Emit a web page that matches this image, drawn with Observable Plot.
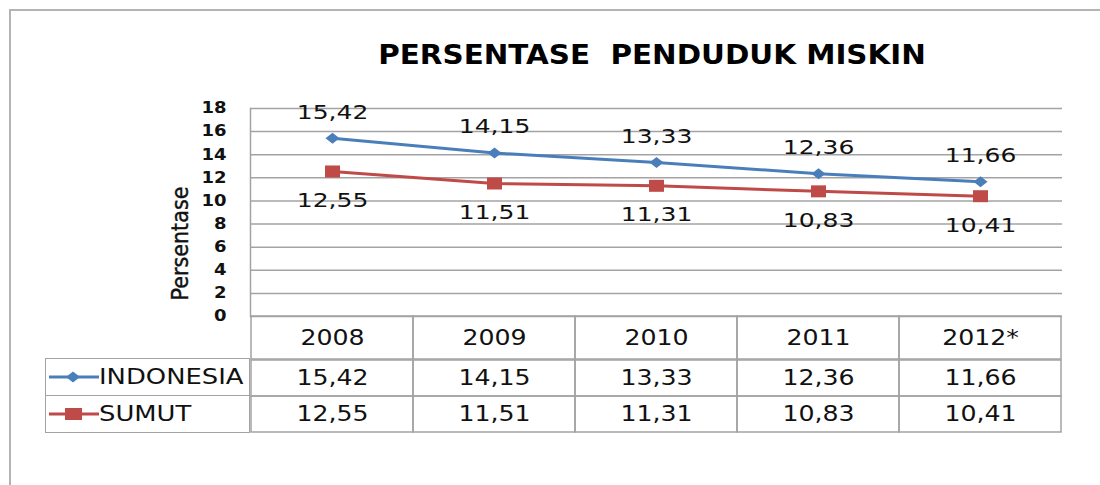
<!DOCTYPE html>
<html>
<head>
<meta charset="utf-8">
<script src="https://cdn.jsdelivr.net/npm/d3@7"></script>
<script src="https://cdn.jsdelivr.net/npm/@observablehq/plot@0.6"></script>
<style>
  html, body { margin: 0; padding: 0; background: #fff; }
  #wrap { position: relative; width: 1100px; height: 485px; overflow: hidden; background: #fff; font-family: "DejaVu Sans", sans-serif; color: #111; }
  #frame { position: absolute; left: 9px; top: 9px; width: 1200px; height: 600px; border-left: 2px solid #b4b4b4; border-top: 2px solid #b4b4b4; }
  #title { position: absolute; left: 246px; width: 812px; top: 40px; text-align: center; font-weight: bold; font-size: 26px; white-space: pre; color: #000; line-height: normal; transform: scaleX(1.13); transform-origin: 406px 50%; }
  .layer { position: absolute; left: 0; }
  g[aria-label="y-axis tick label"] text { font-weight: bold; }
  #legend { position: absolute; left: 45px; width: 205px; box-sizing: border-box; }
  .lrow { position: absolute; left: 0; width: 205px; box-sizing: border-box; border: 1.5px solid #a3a3a3; display: flex; align-items: center; font-size: 21px; color: #111; white-space: nowrap; }
  .lrow svg { flex: none; margin-left: 3px; }
  .lrow span { display: inline-block; transform: scaleX(1.23); transform-origin: 0 50%; }
</style>
</head>
<body>
<div id="wrap">
  <div id="frame"></div>
  <div id="title">PERSENTASE  PENDUDUK MISKIN</div>
</div>
<script>
// ---- data ----
const years = ["2008", "2009", "2010", "2011", "2012*"];
const seriesNames = ["INDONESIA", "SUMUT"];
const indonesia = [15.42, 14.15, 13.33, 12.36, 11.66];
const sumut = [12.55, 11.51, 11.31, 10.83, 10.41];
const yTicks = [0, 2, 4, 6, 8, 10, 12, 14, 16, 18];
const seriesColors = ["#4a7ebb", "#be4b48"];
const yLabel = "Persentase";

// ---- helpers ----
const fmt = v => v.toFixed(2).replace(".", ",");
const indoData = years.map((y, i) => ({year: y, value: indonesia[i]}));
const sumutData = years.map((y, i) => ({year: y, value: sumut[i]}));

const diamondSym = {draw(ctx) { const w = 7, h = 5.5; ctx.moveTo(0, -h); ctx.lineTo(w, 0); ctx.lineTo(0, h); ctx.lineTo(-w, 0); ctx.closePath(); }};
const rectSym = {draw(ctx) { const w = 7.5, h = 6; ctx.rect(-w, -h, 2 * w, 2 * h); }};

const gridColor = "#a3a3a3";
const textColor = "#111";

const W = 1100, ML = 250, MR = 38;
const wrap = document.getElementById("wrap");

// widen glyphs horizontally (texts must be in the DOM)
function stretch(sel, k) {
  sel.each(function() {
    const len = this.getComputedTextLength();
    if (len > 0) {
      this.setAttribute("textLength", (len * k).toFixed(2));
      this.setAttribute("lengthAdjust", "spacingAndGlyphs");
    }
  });
}

// ---- main chart ----
const chart = Plot.plot({
  width: W, height: 485,
  marginLeft: ML, marginRight: MR, marginTop: 108, marginBottom: 169,
  style: {background: "transparent", fontFamily: "DejaVu Sans", color: textColor, overflow: "visible"},
  x: {type: "band", domain: years, padding: 0, axis: null},
  y: {domain: [0, 18], axis: null},
  marks: [
    Plot.gridY(yTicks, {stroke: gridColor, strokeOpacity: 1, strokeWidth: 1.5}),
    Plot.frame({anchor: "left", stroke: gridColor, strokeWidth: 1.5}),
    Plot.axisY(yTicks, {tickSize: 0, tickPadding: 24, fontSize: 15, fontWeight: "bold", label: null, fill: textColor}),
    Plot.line(indoData, {x: "year", y: "value", stroke: seriesColors[0], strokeWidth: 3}),
    Plot.line(sumutData, {x: "year", y: "value", stroke: seriesColors[1], strokeWidth: 3}),
    Plot.dot(indoData, {x: "year", y: "value", symbol: diamondSym, fill: seriesColors[0], stroke: "none"}),
    Plot.dot(sumutData, {x: "year", y: "value", symbol: rectSym, fill: seriesColors[1], stroke: "none"}),
    Plot.text(indoData, {x: "year", y: "value", text: d => fmt(d.value), dy: -26, fontSize: 20, fill: textColor}),
    Plot.text(sumutData, {x: "year", y: "value", text: d => fmt(d.value), dy: 29, fontSize: 20, fill: textColor}),
    Plot.text([yLabel], {text: d => d, frameAnchor: "left", textAnchor: "middle", dx: -70, dy: 31, rotate: -90, fontSize: 23, fontFamily: "DejaVu Sans Condensed, DejaVu Sans", fill: textColor, stroke: textColor, strokeWidth: 0.4})
  ]
});
chart.classList.add("layer");
chart.style.top = "0px";
wrap.appendChild(chart);
stretch(d3.select(chart).selectAll('g[aria-label="text"] text').filter(function() { return this.textContent !== yLabel; }), 1.25);
stretch(d3.select(chart).selectAll('g[aria-label="y-axis tick label"] text'), 1.2);

// ---- data table (header row + value rows) ----
function tablePart(cells, rows, top, bodyHeight) {
  const p = Plot.plot({
    width: W, height: 1 + bodyHeight + 3,
    marginLeft: ML, marginRight: MR, marginTop: 1, marginBottom: 3,
    style: {background: "transparent", fontFamily: "DejaVu Sans", color: textColor, overflow: "visible"},
    x: {type: "band", domain: years, padding: 0, axis: null},
    y: {type: "band", domain: rows, padding: 0, axis: null},
    marks: [
      Plot.cell(cells, {x: "col", y: "row", fill: "none", stroke: gridColor, strokeWidth: 1.5, inset: 0}),
      Plot.text(cells, {x: "col", y: "row", text: "label", fontSize: 21, fill: textColor})
    ]
  });
  p.classList.add("layer");
  p.style.top = (top - 1) + "px";
  wrap.appendChild(p);
  stretch(d3.select(p).selectAll('g[aria-label="text"] text'), 1.2);
  return p;
}
const headerCells = years.map(y => ({col: y, row: "year", label: y}));
const valueCells = [
  ...years.map((y, i) => ({col: y, row: seriesNames[0], label: fmt(indonesia[i])})),
  ...years.map((y, i) => ({col: y, row: seriesNames[1], label: fmt(sumut[i])}))
];
const headerTop = 316, headerH = 43, valuesTop = headerTop + headerH, valuesH = 73;
tablePart(headerCells, ["year"], headerTop, headerH);
tablePart(valueCells, seriesNames, valuesTop, valuesH);

// ---- legend column (table row headers) ----
const rowH = valuesH / seriesNames.length;
const legend = document.createElement("div");
legend.id = "legend";
legend.style.top = valuesTop + "px";
seriesNames.forEach((name, i) => {
  const row = document.createElement("div");
  row.className = "lrow";
  row.style.top = (i * rowH - 0.75) + "px";
  row.style.height = (rowH + 1.5) + "px";
  const sym = i === 0
    ? `<polygon points="24,4.5 31,10 24,15.5 17,10" fill="${seriesColors[0]}"/>`
    : `<rect x="16" y="4" width="17" height="12" fill="${seriesColors[1]}"/>`;
  row.innerHTML = `<svg width="50" height="20" viewBox="0 0 50 20"><line x1="0" y1="10" x2="50" y2="10" stroke="${seriesColors[i]}" stroke-width="3"/>${sym}</svg><span>${name}</span>`;
  legend.appendChild(row);
});
wrap.appendChild(legend);
</script>
</body>
</html>
